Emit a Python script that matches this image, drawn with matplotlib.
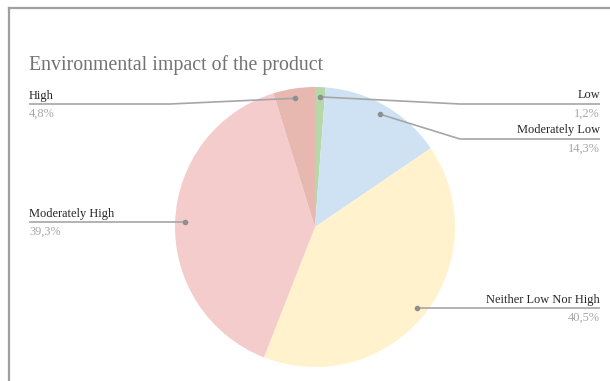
import numpy as np
import matplotlib
matplotlib.use("Agg")
import matplotlib.pyplot as plt
from matplotlib.lines import Line2D

# Survey answers, in clockwise order from 12 o'clock
categories = ["Low", "Moderately Low", "Neither Low Nor High", "Moderately High", "High"]
shares = [1.2, 14.3, 40.5, 39.3, 4.8]
value_labels = ["1,2%", "14,3%", "40,5%", "39,3%", "4,8%"]
colors = ["#b6d7a8", "#cfe2f3", "#fff2cc", "#f4cccc", "#e6b8af"]

W, H = 610, 381
plt.rcParams['font.family'] = ['Liberation Serif', 'DejaVu Serif']

fig = plt.figure(figsize=(W / 100, H / 100), dpi=100)
ax = fig.add_axes([0, 0, 1, 1])

cx, cy, r = 315, H - 227, 140
wedges, _ = ax.pie(shares, colors=colors, startangle=90, counterclock=False,
                   center=(cx, cy), radius=r, wedgeprops=dict(linewidth=0))
ax.set_xlim(0, W)
ax.set_ylim(0, H)
ax.axis("off")

# label placement: side, underline height (px from top), elbow x (None = straight)
layout = {
    "Low": ("right", 104, 460),
    "Moderately Low": ("right", 139, 460),
    "Neither Low Nor High": ("right", None, None),
    "Moderately High": ("left", None, None),
    "High": ("left", 104, 170),
}
line_col = "#a6a6a6"
for w, name, val in zip(wedges, categories, value_labels):
    mid = np.deg2rad((w.theta1 + w.theta2) / 2)
    px = cx + 0.93 * r * np.cos(mid)
    py = cy + 0.93 * r * np.sin(mid)
    side, uy, elbow = layout[name]
    y = py if uy is None else H - uy
    ex = px if elbow is None else elbow
    end = 600 if side == "right" else 29
    ax.plot([px, ex, end], [py, y, y], color=line_col, lw=1.2, solid_capstyle="butt")
    ax.plot(px, py, "o", color="#8f8f8f", ms=3)
    ha = "right" if side == "right" else "left"
    ax.text(end, y + 2.5, name, ha=ha, va="bottom", fontsize=8.9, color="#262626")
    ax.text(end, y - 3.5, val, ha=ha, va="top", fontsize=8.9, color="#a6a6a6")

ax.text(29, H - 65, "Environmental impact of the product", fontsize=14.3,
        color="#737373", va="center", ha="left")

# outer frame of the sheet
fig.add_artist(Line2D([9 / W, 1], [1 - 8 / H, 1 - 8 / H], color="#a0a0a0", lw=1.6))
fig.add_artist(Line2D([9 / W, 9 / W], [0, 1 - 8 / H], color="#a0a0a0", lw=1.6))

fig.savefig("out.png", dpi=100)
